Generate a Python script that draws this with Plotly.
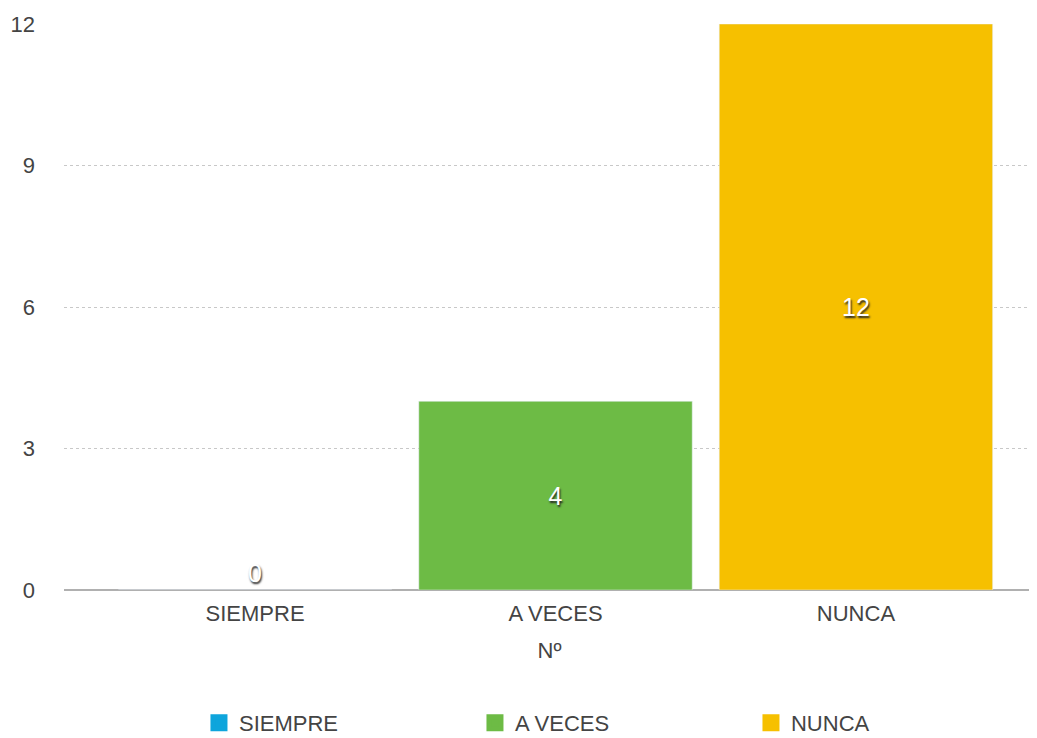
import plotly.graph_objects as go

categories = ["SIEMPRE", "A VECES", "NUNCA"]
values = [0, 4, 12]
colors = ["#0ea5dc", "#6dbb45", "#f6c000"]
y_ticks = [0, 3, 6, 9, 12]

fig = go.Figure()
for cat, val, col in zip(categories, values, colors):
    fig.add_trace(go.Bar(
        x=[cat], y=[val], name=cat, marker_color=col, width=0.91,
        text=[str(val)], textposition="auto" if val > 0 else "outside",
        insidetextanchor="middle",
        textfont=dict(color="white", size=25, family="Liberation Sans",
                      shadow="1px 2px 2px #222"),
        cliponaxis=False, showlegend=False,
    ))
# legend-only entries
for cat, col in zip(categories, colors):
    fig.add_trace(go.Bar(
        x=[cat], y=[None], name=cat, marker_color=col,
        marker_line=dict(color=col, width=5), showlegend=True, hoverinfo="skip",
    ))

# page body has an 8px margin, so the figure is sized/positioned to compensate
fig.update_layout(
    width=1029, height=730,
    margin=dict(l=56, r=2, t=16, b=148, autoexpand=False),
    paper_bgcolor="white", plot_bgcolor="white",
    barmode="overlay",
    font=dict(family="Liberation Sans", color="#444", size=22),
    showlegend=True,
    legend=dict(orientation="h", x=0.139, xanchor="left", y=-0.235, yanchor="middle",
                entrywidth=231, entrywidthmode="pixels",
                font=dict(size=22, color="#444")),
    uniformtext=dict(minsize=10, mode="show"),
)
fig.update_xaxes(range=[-0.636, 2.596], showgrid=False, ticks="", automargin=False,
                 tickfont=dict(size=22), ticklabelstandoff=8,
                 title=dict(text="Nº", font=dict(size=22), standoff=17),
                 showline=False)
fig.update_yaxes(range=[0, 12], tickvals=y_ticks, showgrid=True, gridcolor="#c8c8c8",
                 griddash="dot", zeroline=True, zerolinecolor="#b0b0b0", zerolinewidth=1.5,
                 automargin=False, ticklabelstandoff=28, tickfont=dict(size=22))
fig.write_html("out.html")
